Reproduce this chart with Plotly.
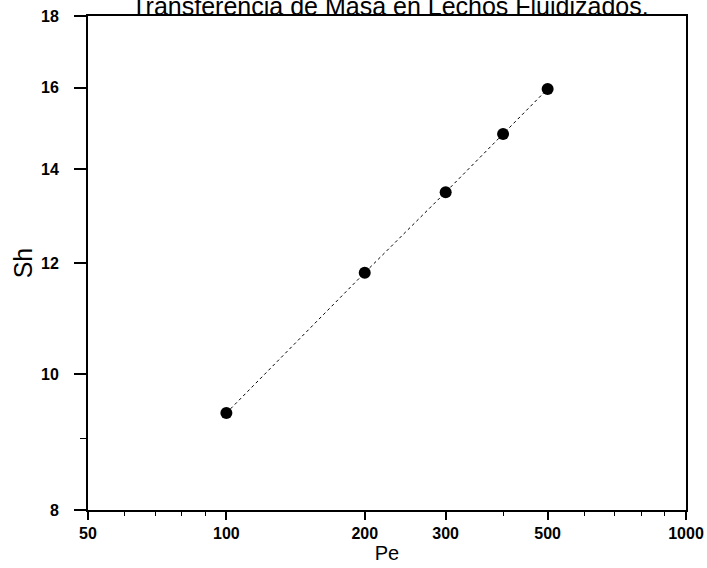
import plotly.graph_objects as go

pe = [100, 200, 300, 400, 500]
sh = [9.38, 11.81, 13.48, 14.83, 15.97]

x_tickvals = [50, 100, 200, 300, 500, 1000]
x_ticktext = ["50", "100", "200", "300", "500", "1000"]
y_tickvals = [8, 10, 12, 14, 16, 18]
y_ticktext = ["8", "10", "12", "14", "16", "18"]
x_minor = [60, 70, 80, 90, 400, 600, 700, 800, 900]
y_minor = [9]

FONT = "Liberation Sans, Arial, sans-serif"

fig = go.Figure()
fig.add_trace(go.Scatter(
    x=pe, y=sh, mode="lines+markers",
    line=dict(color="black", width=1, dash="dot"),
    marker=dict(color="black", size=12),
    showlegend=False,
))

fig.update_layout(
    width=707, height=568,
    margin=dict(l=88, r=21, t=16, b=58, autoexpand=False),
    paper_bgcolor="white", plot_bgcolor="white",
    title=dict(text="Transferencia de Masa en Lechos Fluidizados.",
               x=390 / 707, xanchor="center",
               y=1 - 6 / 568, yanchor="middle",
               font=dict(family=FONT, size=25, color="black"),
               automargin=False),
    font=dict(family=FONT, color="black"),
)

fig.update_xaxes(
    type="log", range=[1.69897, 3.0], automargin=False,
    tickvals=x_tickvals, ticktext=x_ticktext,
    ticks="outside", ticklen=8, tickwidth=1.5, tickcolor="black",
    tickfont=dict(family=FONT, size=16, color="black", weight="bold"),
    minor=dict(tickvals=x_minor, ticks="outside", ticklen=4, tickcolor="black", tickwidth=1),
    showline=True, linecolor="black", linewidth=2, mirror=True,
    showgrid=False, zeroline=False,
    title=dict(text="Pe", font=dict(family=FONT, size=20, color="black"), standoff=3),
)
fig.update_yaxes(
    type="log", range=[0.90309, 1.2552725], automargin=False,
    tickvals=y_tickvals, ticktext=y_ticktext,
    ticks="outside", ticklen=12, tickwidth=1.5, tickcolor="black",
    ticklabelstandoff=12,
    tickfont=dict(family=FONT, size=16, color="black", weight="bold"),
    minor=dict(tickvals=y_minor, ticks="outside", ticklen=6, tickcolor="black", tickwidth=1),
    showline=True, linecolor="black", linewidth=2, mirror=True,
    showgrid=False, zeroline=False,
    title=dict(text="Sh", font=dict(family=FONT, size=25, color="black"), standoff=1),
)

fig.write_html("out.html", config={"displayModeBar": False},
               post_script="document.body.style.margin='0';")
